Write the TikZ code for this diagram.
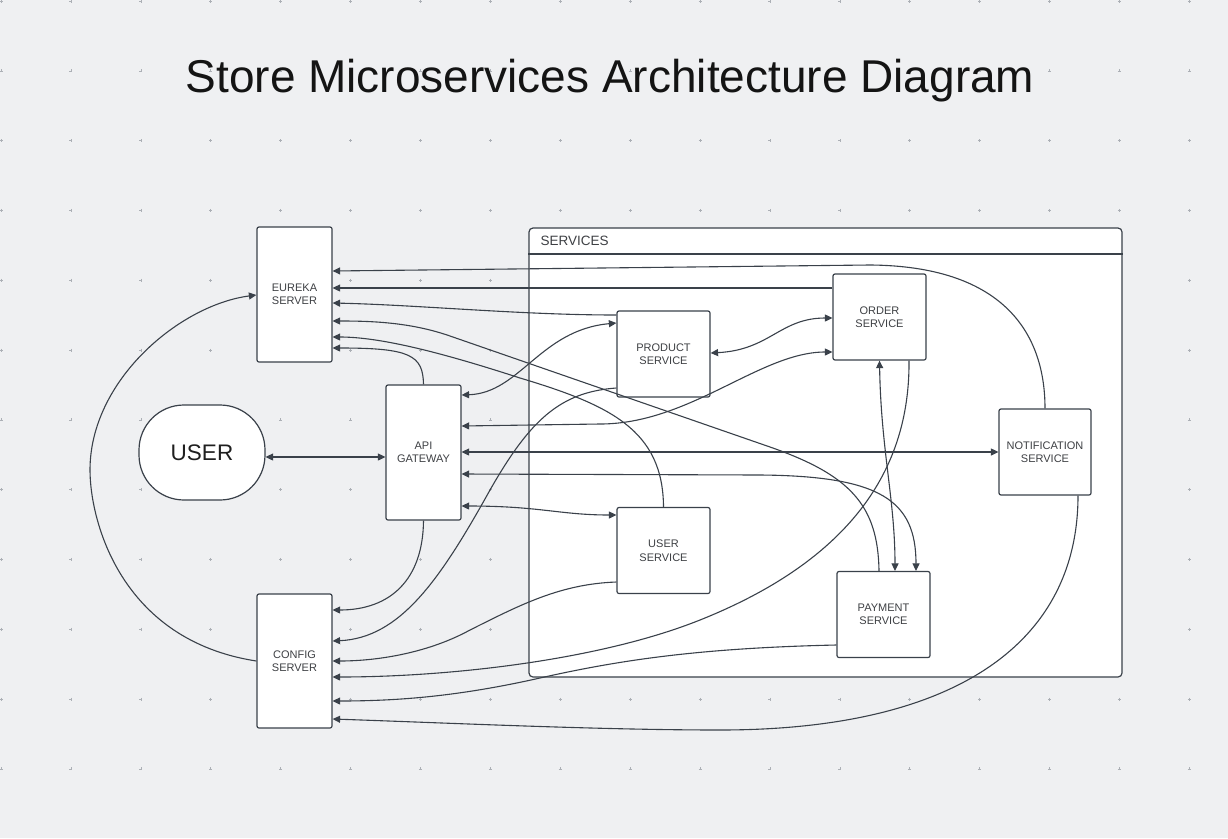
\documentclass[tikz,border=0pt]{standalone}
\usepackage{fontspec}
\setmainfont{Liberation Sans}
\usetikzlibrary{arrows.meta}

\definecolor{bgcol}{RGB}{239,240,242}
\definecolor{linecol}{RGB}{58,65,74}
\definecolor{txtcol}{RGB}{62,64,68}
\definecolor{dotcol}{RGB}{172,176,182}

\begin{document}
\begin{tikzpicture}[x=1pt,y=-1pt,
  >={Triangle[length=7.5pt,width=7pt]},
  box/.style={draw=linecol,line width=1.2pt,fill=white,rounded corners=2pt,inner sep=0pt,
    align=center,text=txtcol,font=\fontsize{11}{13.5}\selectfont},
  svcbox/.style={box,minimum width=93pt,minimum height=86pt},
  srvbox/.style={box,minimum width=75pt,minimum height=135pt},
  link/.style={draw=linecol,line width=1.1pt}]
  \useasboundingbox (0,0) rectangle (1228,838);
  \fill[bgcol] (0,0) rectangle (1228,838);
  \foreach \i in {0,...,17}
    \foreach \j in {0,...,11}
      \draw[dotcol,line width=0.5pt] (1+69.9*\i,1+69.8*\j) +(-1.5,0) -- +(1.5,0) +(0,-1.5) -- +(0,1.5);

  \node[anchor=base,text=black!92,font=\fontsize{46}{55}\selectfont] (title) at (610,92) {Store Microservices Architecture Diagram};

  \node[draw=linecol,line width=1.2pt,fill=white,rounded corners=4pt,minimum width=593pt,minimum height=449pt] (services) at (825.5,452.5) {};
  \draw[linecol,line width=1.2pt] (services.west |- 0,254) -- (services.east |- 0,254);
  \node[anchor=west,text=txtcol,font=\fontsize{13.5}{16}\selectfont] (svclabel) at (537,241) {SERVICES};

  \node[srvbox] (eureka) at (294.5,294.5) {EUREKA\\SERVER};
  \node[srvbox,minimum height=134pt] (config) at (294.5,661) {CONFIG\\SERVER};
  \node[srvbox] (api) at (423.5,452.5) {API\\GATEWAY};
  \node[box,rounded corners=45pt,minimum width=126pt,minimum height=95pt,text=black!88,font=\fontsize{22.5}{27}\selectfont] (usr) at (202,452.5) {USER};

  \node[svcbox] (product) at (663.5,354) {PRODUCT\\SERVICE};
  \node[svcbox] (order) at (879.5,317) {ORDER\\SERVICE};
  \node[svcbox] (usersvc) at (663.5,550.5) {USER\\SERVICE};
  \node[svcbox] (payment) at (883.5,614.5) {PAYMENT\\SERVICE};
  \node[svcbox,minimum width=92pt] (notif) at (1045,452) {NOTIFICATION\\SERVICE};

  \draw[link,->] (notif.north) .. controls (1045,330) and (1000,266) .. (870,265) -- (eureka.east |- 0,271);
  \draw[link,->] (order.west |- 0,288) -- (eureka.east |- 0,288);
  \draw[link,->] (product.west |- 0,315) .. controls (520,315) and (420,305) .. (eureka.east |- 0,303);
  \draw[link,->] ([xshift=-4.5pt]payment.north) .. controls (878,505) and (850,475) .. (770,447) -- (450,336) .. controls (410,322) and (370,321) .. (eureka.east |- 0,321);
  \draw[link,->] (usersvc.north) .. controls (663,430) and (610,405) .. (520,378) .. controls (440,352) and (380,337) .. (eureka.east |- 0,337);
  \draw[link,->] (api.north) .. controls (423,355) and (410,348) .. (eureka.east |- 0,348);

  \draw[link,->] (api.south) .. controls (423,580) and (390,610) .. (config.east |- 0,610);
  \draw[link,->] (product.west |- 0,388) .. controls (560,392) and (530,420) .. (490,490) .. controls (440,580) and (400,638) .. (config.east |- 0,641);
  \draw[link,->] (usersvc.west |- 0,582) .. controls (560,584) and (520,605) .. (470,630) .. controls (430,652) and (380,661) .. (config.east |- 0,661);
  \draw[link,->] ([xshift=29.5pt]order.south) .. controls (910,470) and (850,560) .. (700,620) .. controls (600,660) and (450,677) .. (config.east |- 0,677);
  \draw[link,->] (payment.west |- 0,645) .. controls (700,648) and (620,660) .. (540,678) .. controls (460,696) and (400,701) .. (config.east |- 0,701);
  \draw[link,->] ([xshift=33pt]notif.south) .. controls (1078,640) and (960,730) .. (720,730) .. controls (600,730) and (450,723) .. (config.east |- 0,719);

  \draw[link,->] (config.west) .. controls (120,640) and (90,520) .. (90,470) .. controls (90,380) and (180,305) .. (eureka.west |- 0,295);

  \draw[link,<->] (usr.east |- 0,457) -- (api.west |- 0,457);
  \draw[link,<->] (api.east |- 0,395) .. controls (520,393) and (540,330) .. (product.west |- 0,323);
  \draw[link,<->] (api.east |- 0,426) -- (600,424) .. controls (690,424) and (760,352) .. (order.west |- 0,352);
  \draw[link,<->] (api.east |- 0,452) -- (notif.west |- 0,452);
  \draw[link,<->] (api.east |- 0,474) -- (760,475) .. controls (880,476) and (916,500) .. ([xshift=32.5pt]payment.north);
  \draw[link,<->] (api.east |- 0,506) .. controls (540,506) and (560,515) .. (usersvc.west |- 0,515);
  \draw[link,<->] (product.east |- 0,353) .. controls (770,350) and (780,318) .. (order.west |- 0,318);
  \draw[link,<->] (order.south) .. controls (881,450) and (895,500) .. ([xshift=11.5pt]payment.north);
\end{tikzpicture}
\end{document}
